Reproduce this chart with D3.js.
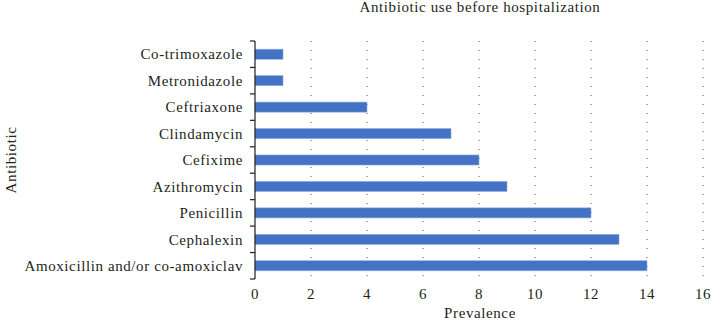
<!DOCTYPE html>
<html lang="en">
<head>
<meta charset="UTF-8">
<title>Antibiotic use before hospitalization</title>
<style>
  body { margin: 0; background: #fff; }
  text { font-family: "Liberation Serif", "DejaVu Serif", serif; fill: #231f20; letter-spacing: 0.6px; }
</style>
</head>
<body>
<script src="https://d3js.org/d3.v7.min.js"></script>
<script>
var antibiotics = ["Co-trimoxazole", "Metronidazole", "Ceftriaxone", "Clindamycin", "Cefixime",
                   "Azithromycin", "Penicillin", "Cephalexin", "Amoxicillin and/or co-amoxiclav"];
var prevalence = [1, 1, 4, 7, 8, 9, 12, 13, 14];
var xTicks = [0, 2, 4, 6, 8, 10, 12, 14, 16];

var width = 711, height = 320;
var margin = { left: 255, right: 8, top: 41, bottom: 41 };

var svg = d3.select("body").append("svg").attr("width", width).attr("height", height);

var x = d3.scaleLinear().domain([0, 16]).range([margin.left, width - margin.right]);
var y = d3.scaleBand().domain(antibiotics)
    .range([margin.top, height - margin.bottom]).paddingInner(0.62).paddingOuter(0.31);

// dotted vertical grid
svg.append("g").selectAll("line")
    .data(xTicks.slice(1))
    .enter().append("line")
    .attr("x1", function(d) { return x(d); })
    .attr("x2", function(d) { return x(d); })
    .attr("y1", margin.top)
    .attr("y2", height - margin.bottom)
    .attr("stroke", "#555")
    .attr("stroke-width", 1)
    .attr("stroke-dasharray", "1,8");

// bars
svg.append("g").selectAll("rect")
    .data(antibiotics)
    .enter().append("rect")
    .attr("x", x(0))
    .attr("y", function(d) { return y(d); })
    .attr("width", function(d, i) { return x(prevalence[i]) - x(0); })
    .attr("height", y.bandwidth())
    .attr("fill", "#4472c4")
    .attr("stroke", "#8fa9dc")
    .attr("stroke-width", 0.6);

// y axis line with boundary ticks
var yAxis = svg.append("g");
yAxis.append("line")
    .attr("x1", margin.left).attr("x2", margin.left)
    .attr("y1", margin.top).attr("y2", height - margin.bottom)
    .attr("stroke", "#231f20").attr("stroke-width", 1.2);
var step = y.step();
yAxis.selectAll(".tk")
    .data(d3.range(antibiotics.length + 1))
    .enter().append("line")
    .attr("x1", margin.left - 5).attr("x2", margin.left)
    .attr("y1", function(d) { return margin.top + d * step; })
    .attr("y2", function(d) { return margin.top + d * step; })
    .attr("stroke", "#231f20").attr("stroke-width", 1.2);

yAxis.selectAll(".lbl")
    .data(antibiotics)
    .enter().append("text")
    .attr("x", margin.left - 12)
    .attr("y", function(d) { return y(d) + y.bandwidth() / 2; })
    .attr("dy", "0.35em")
    .attr("text-anchor", "end")
    .attr("font-size", 15)
    .text(function(d) { return d; });

// x tick labels
svg.append("g").selectAll("text")
    .data(xTicks)
    .enter().append("text")
    .attr("x", function(d) { return x(d); })
    .attr("y", 299)
    .attr("text-anchor", "middle")
    .attr("font-size", 15)
    .text(function(d) { return d; });

// titles
svg.append("text")
    .attr("x", 480).attr("y", 12)
    .attr("text-anchor", "middle")
    .attr("font-size", 15)
    .text("Antibiotic use before hospitalization");

svg.append("text")
    .attr("x", 480).attr("y", 318)
    .attr("text-anchor", "middle")
    .attr("font-size", 15)
    .text("Prevalence");

svg.append("text")
    .attr("transform", "translate(16," + (margin.top + (height - margin.top - margin.bottom) / 2) + ") rotate(-90)")
    .attr("text-anchor", "middle")
    .attr("font-size", 15)
    .text("Antibiotic");
</script>
</body>
</html>
